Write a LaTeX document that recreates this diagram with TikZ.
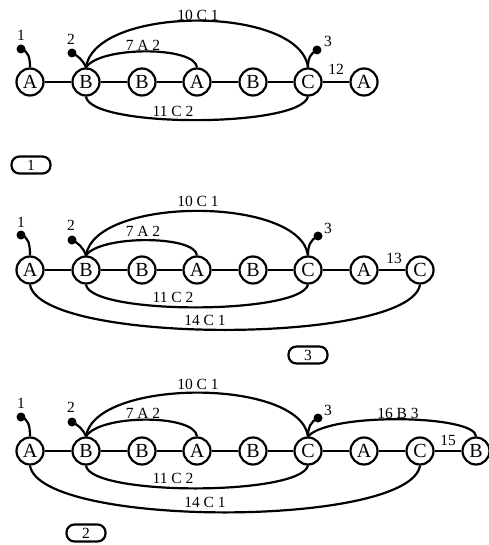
\documentclass[tikz,border=0pt]{standalone}
\usepackage{fontspec}
\setmainfont{Liberation Serif}
\tikzset{
  vtx/.style={circle, draw, line width=2.2pt, minimum size=27pt, inner sep=0pt,
              fill=white, font=\fontsize{20}{20}\selectfont},
  pin/.style={circle, fill, inner sep=0pt, minimum size=9pt},
  lbl/.style={font=\fontsize{15.5}{16}\selectfont, inner sep=0pt, anchor=base},
  tag/.style={draw, line width=2.2pt, rounded corners=8pt, minimum width=39pt,
              minimum height=17pt, inner sep=0pt, font=\fontsize{15.5}{16}\selectfont},
  link/.style={line width=2.2pt},
}

\begin{document}
\begin{tikzpicture}[x=1pt,y=-1pt]
  \useasboundingbox (0,0) rectangle (488,545);
  % graph 1
  \node[vtx] (a1) at (30,82){A};
  \node[vtx] (b1) at (86,82){B};
  \node[vtx] (c1) at (142,82){B};
  \node[vtx] (d1) at (197,82){A};
  \node[vtx] (e1) at (253,82){B};
  \node[vtx] (f1) at (308,82){C};
  \node[vtx] (g1) at (364,82){A};
  \foreach \u/\v in {a1/b1,b1/c1,c1/d1,d1/e1,e1/f1,f1/g1}{\draw[link](\u)--(\v);}
  \draw[link](b1.north) .. controls (95,5) and (300,5) .. (f1.north);
  \draw[link](b1.north) .. controls (100,46) and (195,46) .. (d1.north);
  \draw[link](b1.south) .. controls (90,128) and (300,128) .. (f1.south);
  \node[pin] (p11) at (21,49){};
  \node[pin] (p12) at (72,53){};
  \node[pin] (p13) at (317,50){};
  \draw[link](p11.center) .. controls (28,51) and (30,57) .. (a1.north);
  \draw[link](p12.center) .. controls (78,56) and (83,60) .. (b1.north);
  \draw[link](p13.center) .. controls (310,54) and (308,58) .. (f1.north);
  \node[lbl] (n11) at (21,41){1};
  \node[lbl] (n12) at (71,45){2};
  \node[lbl] (n13) at (328,47){3};
  \node[lbl] (t11) at (198,20.5){10 C 1};
  \node[lbl] (t12) at (143,51){7 A 2};
  \node[lbl] (t13) at (173,117){11 C 2};
  \node[lbl] (t14) at (336,75){12};
  \node[tag] (k1) at (31,165){1};

  % graph 3
  \node[vtx] (a2) at (30,270){A};
  \node[vtx] (b2) at (86,270){B};
  \node[vtx] (c2) at (142,270){B};
  \node[vtx] (d2) at (197,270){A};
  \node[vtx] (e2) at (253,270){B};
  \node[vtx] (f2) at (308,270){C};
  \node[vtx] (g2) at (364,270){A};
  \node[vtx] (h2) at (420,270){C};
  \foreach \u/\v in {a2/b2,b2/c2,c2/d2,d2/e2,e2/f2,f2/g2,g2/h2}{\draw[link](\u)--(\v);}
  \draw[link](b2.north) .. controls (95,196) and (300,196) .. (f2.north);
  \draw[link](b2.north) .. controls (100,235) and (195,235) .. (d2.north);
  \draw[link](b2.south) .. controls (90,315) and (300,315) .. (f2.south);
  \draw[link](a2.south) .. controls (40,345) and (410,345) .. (h2.south);
  \node[pin] (p21) at (21,235){};
  \node[pin] (p22) at (72,240){};
  \node[pin] (p23) at (318,236){};
  \draw[link](p21.center) .. controls (28,237) and (30,243) .. (a2.north);
  \draw[link](p22.center) .. controls (78,243) and (83,247) .. (b2.north);
  \draw[link](p23.center) .. controls (310,240) and (308,246) .. (f2.north);
  \node[lbl] (n21) at (21,227){1};
  \node[lbl] (n22) at (71,230){2};
  \node[lbl] (n23) at (328,233){3};
  \node[lbl] (t21) at (198,207){10 C 1};
  \node[lbl] (t22) at (143,236.5){7 A 2};
  \node[lbl] (t23) at (173,302){11 C 2};
  \node[lbl] (t24) at (205,325){14 C 1};
  \node[lbl] (t25) at (394,263){13};
  \node[tag] (k3) at (308,355){3};

  % graph 2
  \node[vtx] (a3) at (30,451){A};
  \node[vtx] (b3) at (86,451){B};
  \node[vtx] (c3) at (142,451){B};
  \node[vtx] (d3) at (197,451){A};
  \node[vtx] (e3) at (253,451){B};
  \node[vtx] (f3) at (308,451){C};
  \node[vtx] (g3) at (364,451){A};
  \node[vtx] (h3) at (420,451){C};
  \node[vtx] (i3) at (476,451){B};
  \foreach \u/\v in {a3/b3,b3/c3,c3/d3,d3/e3,e3/f3,f3/g3,g3/h3,h3/i3}{\draw[link](\u)--(\v);}
  \draw[link](b3.north) .. controls (95,378) and (300,378) .. (f3.north);
  \draw[link](b3.north) .. controls (100,414) and (195,414) .. (d3.north);
  \draw[link](b3.south) .. controls (90,496) and (300,496) .. (f3.south);
  \draw[link](a3.south) .. controls (40,528) and (410,528) .. (h3.south);
  \draw[link](f3.north) .. controls (330,412) and (476,415) .. (i3.north);
  \node[pin] (p31) at (21,417){};
  \node[pin] (p32) at (72,422){};
  \node[pin] (p33) at (318,418){};
  \draw[link](p31.center) .. controls (28,419) and (30,425) .. (a3.north);
  \draw[link](p32.center) .. controls (78,425) and (83,429) .. (b3.north);
  \draw[link](p33.center) .. controls (310,422) and (308,428) .. (f3.north);
  \node[lbl] (n31) at (21,408){1};
  \node[lbl] (n32) at (71,412){2};
  \node[lbl] (n33) at (328,415){3};
  \node[lbl] (t31) at (198,389){10 C 1};
  \node[lbl] (t32) at (143,418){7 A 2};
  \node[lbl] (t33) at (173,483){11 C 2};
  \node[lbl] (t34) at (205,507){14 C 1};
  \node[lbl] (t35) at (398,418){16 B 3};
  \node[lbl] (t36) at (448,445){15};
  \node[tag] (k2) at (86,533){2};
\end{tikzpicture}
\end{document}
